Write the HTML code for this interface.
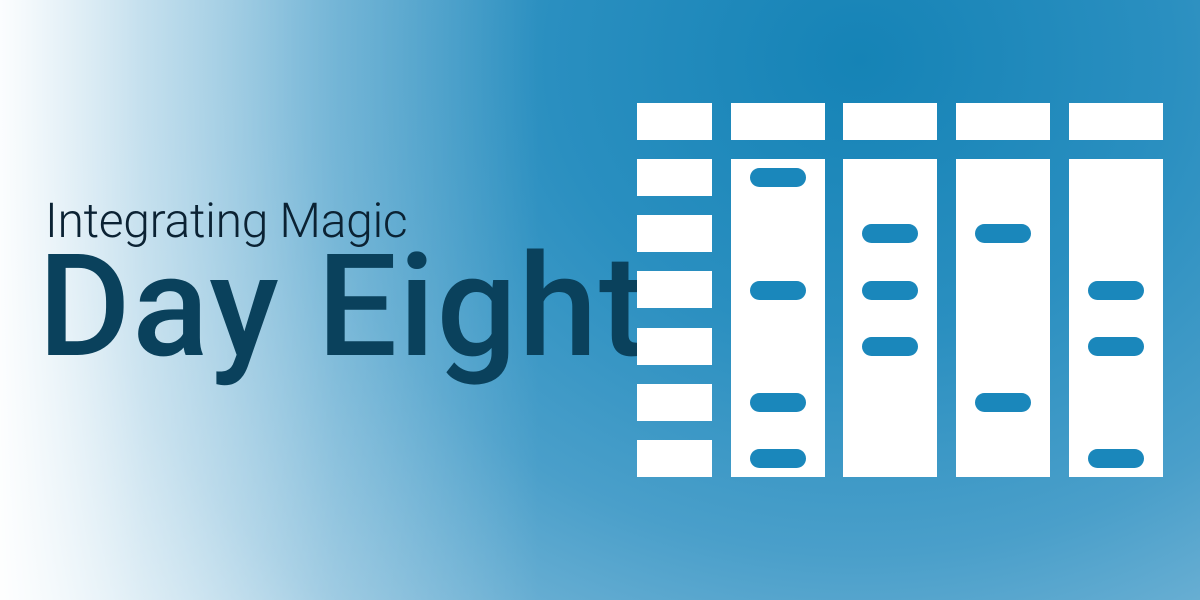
<!DOCTYPE html>
<html><head><style>
html,body{margin:0;padding:0}
body{width:1200px;height:600px;position:relative;overflow:hidden;
background:linear-gradient(90deg,rgba(255,255,255,0.97) 0%,rgba(255,255,255,0.6) 12%,rgba(255,255,255,0.25) 28%,rgba(255,255,255,0) 45%),
radial-gradient(ellipse 1250px 1100px at 860px 60px,#1583b6 0%,#2a8fc0 25%,#4a9fca 45%,#7fbad9 65%,#c4e0ee 82%,#ffffff 97%);
font-family:"Roboto","Liberation Sans",sans-serif}
.c{position:absolute;background:#fff}
.p{position:absolute;width:56px;height:19px;border-radius:10px;background:#1a87bb}
.t1{position:absolute;left:45px;top:192px;font-size:48px;color:#0b2233;font-weight:300;letter-spacing:-0.3px}
.t2{position:absolute;left:38px;top:236px;font-size:142px;color:#0a415c;font-weight:500;letter-spacing:1.5px;line-height:1}
</style></head><body>
<div class="t1">Integrating Magic</div>
<div class="t2">Day Eight</div>
<div class="c" style="left:637px;top:103px;width:75px;height:37px"></div>
<div class="c" style="left:731px;top:103px;width:94px;height:37px"></div>
<div class="c" style="left:843px;top:103px;width:94px;height:37px"></div>
<div class="c" style="left:956px;top:103px;width:94px;height:37px"></div>
<div class="c" style="left:1069px;top:103px;width:94px;height:37px"></div>
<div class="c" style="left:637px;top:159px;width:75px;height:37px"></div>
<div class="c" style="left:637px;top:215px;width:75px;height:37px"></div>
<div class="c" style="left:637px;top:271px;width:75px;height:37px"></div>
<div class="c" style="left:637px;top:328px;width:75px;height:37px"></div>
<div class="c" style="left:637px;top:384px;width:75px;height:37px"></div>
<div class="c" style="left:637px;top:440px;width:75px;height:37px"></div>
<div class="c" style="left:731px;top:159px;width:94px;height:318px"></div>
<div class="c" style="left:843px;top:159px;width:94px;height:318px"></div>
<div class="c" style="left:956px;top:159px;width:94px;height:318px"></div>
<div class="c" style="left:1069px;top:159px;width:94px;height:318px"></div>
<div class="p" style="left:750px;top:168px"></div>
<div class="p" style="left:750px;top:281px"></div>
<div class="p" style="left:750px;top:393px"></div>
<div class="p" style="left:750px;top:449px"></div>
<div class="p" style="left:862px;top:224px"></div>
<div class="p" style="left:862px;top:281px"></div>
<div class="p" style="left:862px;top:337px"></div>
<div class="p" style="left:975px;top:224px"></div>
<div class="p" style="left:975px;top:393px"></div>
<div class="p" style="left:1088px;top:281px"></div>
<div class="p" style="left:1088px;top:337px"></div>
<div class="p" style="left:1088px;top:449px"></div>
</body></html>
